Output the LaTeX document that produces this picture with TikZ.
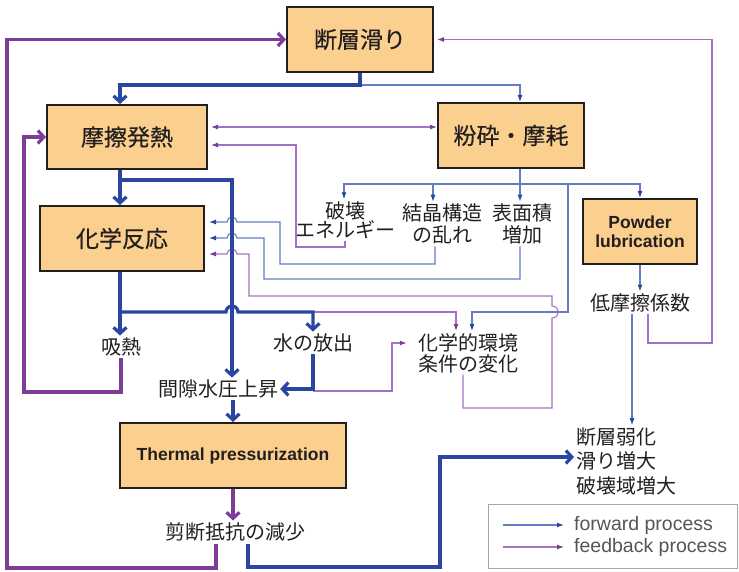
\documentclass[tikz,border=0pt]{standalone}
\usepackage{fontspec}
\setmainfont{Noto Sans CJK JP}
\newfontfamily\boxfont[FakeBold=0.4]{Noto Sans CJK JP}
\newfontfamily\helv{Liberation Sans}
\usetikzlibrary{arrows.meta}

\definecolor{boxfill}{RGB}{251,207,142}
\definecolor{fwdblue}{RGB}{42,70,160}
\definecolor{fwdlight}{RGB}{100,124,194}
\definecolor{fbkpurple}{RGB}{125,60,152}
\definecolor{fbklight}{RGB}{164,114,192}
\definecolor{txt}{RGB}{35,31,32}
\definecolor{legtext}{RGB}{85,85,85}

\begin{document}
\begin{tikzpicture}[x=1pt,y=-1pt]
% Estilos
\tikzstyle{proc} = [rectangle, draw=txt, line width=2pt, fill=boxfill, text=txt, inner sep=0pt, font=\boxfont\fontsize{23}{26}\selectfont]
\tikzstyle{engproc} = [proc, align=center, font=\helv\bfseries\fontsize{17.5}{19}\selectfont]
\tikzstyle{lbl} = [align=center, text=txt, inner sep=2pt, font=\fontsize{20}{21}\selectfont]
\tikzstyle{legtxt} = [text=legtext, inner sep=0pt, font=\helv\fontsize{19.5}{21}\selectfont]
\tikzstyle{fwdthick} = [draw=fwdblue, line width=3.2pt, -{Straight Barb[length=6pt,width=13pt]}]
\tikzstyle{fwd} = [draw=fwdlight, line width=1.1pt, -{Latex[length=7pt,width=5pt,color=fwdblue]}]
\tikzstyle{fbkthick} = [draw=fbkpurple, line width=3.2pt, -{Straight Barb[length=6pt,width=13pt]}]
\tikzstyle{fbk} = [draw=fbklight, line width=1.1pt, -{Latex[length=7pt,width=5pt,color=fbkpurple]}]
\tikzstyle{fbkboth} = [fbk, {Latex[length=7pt,width=5pt,color=fbkpurple]}-{Latex[length=7pt,width=5pt,color=fbkpurple]}]

\useasboundingbox (0,0) rectangle (739,572);

% Procesos
\node[proc, minimum width=146pt, minimum height=65pt] (dansou) at (360,39.5) {断層滑り};
\node[proc, minimum width=160pt, minimum height=64pt] (masatsu) at (127,137) {摩擦発熱};
\node[proc, minimum width=146pt, minimum height=65pt] (funsai) at (511,135.5) {粉砕・摩耗};
\node[proc, minimum width=164pt, minimum height=65pt] (kagaku) at (122,238.5) {化学反応};
\node[engproc, minimum width=114pt, minimum height=65pt] (powder) at (640,231.5) {Powder\\lubrication};
\node[engproc, minimum width=226pt, minimum height=65pt] (thermal) at (233,455.5) {Thermal pressurization};

% Efectos
\node[lbl, font=\fontsize{20}{19}\selectfont] (hakai) at (345,220) {破壊\\エネルギー};
\node[lbl, font=\fontsize{20}{22}\selectfont] (kessho) at (442,224) {結晶構造\\の乱れ};
\node[lbl, font=\fontsize{20}{22}\selectfont] (hyomen) at (522,224) {表面積\\増加};
\node[lbl] (teimasatsu) at (640,303) {低摩擦係数};
\node[lbl] (kyunetsu) at (121,347) {吸熱};
\node[lbl] (mizu) at (313,343) {水の放出};
\node[lbl] (kangeki) at (218,389) {間隙水圧上昇};
\node[lbl, inner xsep=11pt] (kankyo) at (468,353) {化学的環境\\条件の変化};
\node[lbl] (sendan) at (235,532) {剪断抵抗の減少};
\node[lbl, align=left, anchor=west, font=\fontsize{20}{24.5}\selectfont] (jakka) at (574,461) {断層弱化\\滑り増大\\破壊域増大};

% Forward process (finas)
\draw[fwd] (dansou.south) |- (520,85) -- (funsai.north -| 520,0);
\draw[fwd] (funsai.south -| 520,0) -- (hyomen.north -| 520,0);
\draw[fwd] (funsai.south -| 520,0) |- (344,184) -- (hakai.north -| 344,0);
\draw[fwd] (433,184) -- (kessho.north -| 433,0);
\draw[fwd] (funsai.south -| 520,0) |- (640,184) -- (powder.north);
\draw[fwd] (568,184) |- (472,312) -- (kankyo.north -| 472,0);
\draw[fwd, shorten >=4pt] (kessho.south -| 435,0) |- (280,264) |- (237,222) arc[start angle=0, end angle=180, radius=5pt] -- (kagaku.east |- 0,222);
\draw[fwd, shorten >=4pt] (hyomen.south -| 520,0) |- (264,279) |- (237,238) arc[start angle=0, end angle=180, radius=5pt] -- (kagaku.east |- 0,238);
\draw[fwd] (powder.south) -- (teimasatsu.north);
\draw[fwd] (teimasatsu.south -| 632,0) -- (jakka.north -| 632,0);

% Feedback process (finas)
\draw[fbkboth, shorten <=3pt] (masatsu.east |- 0,127) -- (funsai.west |- 0,127);
\draw[fbk, shorten >=3pt] (hakai.south) |- (296,247) |- (masatsu.east |- 0,145);
\draw[fbk, shorten >=4pt] (kankyo.south -| 463,0) |- (552,408) -- (552,318) arc[start angle=-90, end angle=90, radius=6pt] |- (249,296) |- (237,254) arc[start angle=0, end angle=180, radius=5pt] -- (kagaku.east |- 0,254);
\draw[fbk] (mizu.north |- 0,312) -- (456,312) -- (kankyo.north -| 456,0);
\draw[fbk] (mizu.south |- 0,391) -| (392,343) -- (kankyo.west |- 0,343);
\draw[fbk, shorten >=3pt] (teimasatsu.south -| 648,0) |- (712,343) |- (dansou.east);

% Forward process (gruesas)
\draw[fwdthick] (dansou.south) |- (120,85) -- (masatsu.north -| 120,0);
\draw[fwdthick] (masatsu.south -| 120,0) -- (kagaku.north -| 120,0);
\draw[fwdthick] (masatsu.south -| 120,0) |- (232,180) -- (kangeki.north -| 232,0);
\draw[fwdthick] (kagaku.south -| 120,0) -- (kyunetsu.north -| 120,0);
\draw[fwdthick] (kagaku.south -| 120,0) |- (226,312) arc[start angle=180, end angle=0, radius=6pt] -- (313,312) -- (mizu.north);
\draw[fwdthick] (mizu.south) |- (kangeki.east);
\draw[fwdthick] (kangeki.south -| 233,0) -- (thermal.north);
\draw[fwdthick] (sendan.south -| 248,0) |- (440,567) |- (jakka.west |- 0,457);

% Feedback process (gruesas)
\draw[fbkthick] (thermal.south) -- (thermal.south |- sendan.north);
\draw[fbkthick] (kyunetsu.south) |- (24,392) |- (masatsu.west);
\draw[fbkthick] (sendan.south -| 216,0) |- (7,568) |- (dansou.west);

% Leyenda
\draw[draw=gray!70, line width=1pt] (488,504) rectangle (737,568);
\node[legtxt, anchor=west] (lgfwd) at (574,525) {forward process};
\node[legtxt, anchor=west] (lgfbk) at (574,547) {feedback process};
\coordinate (lgfwdstart) at (503,525);
\coordinate (lgfbkstart) at (503,547);
\draw[fwd, shorten >=10pt] (lgfwdstart) -- (lgfwd.west);
\draw[fbk, shorten >=10pt] (lgfbkstart) -- (lgfbk.west);
\end{tikzpicture}
\end{document}
